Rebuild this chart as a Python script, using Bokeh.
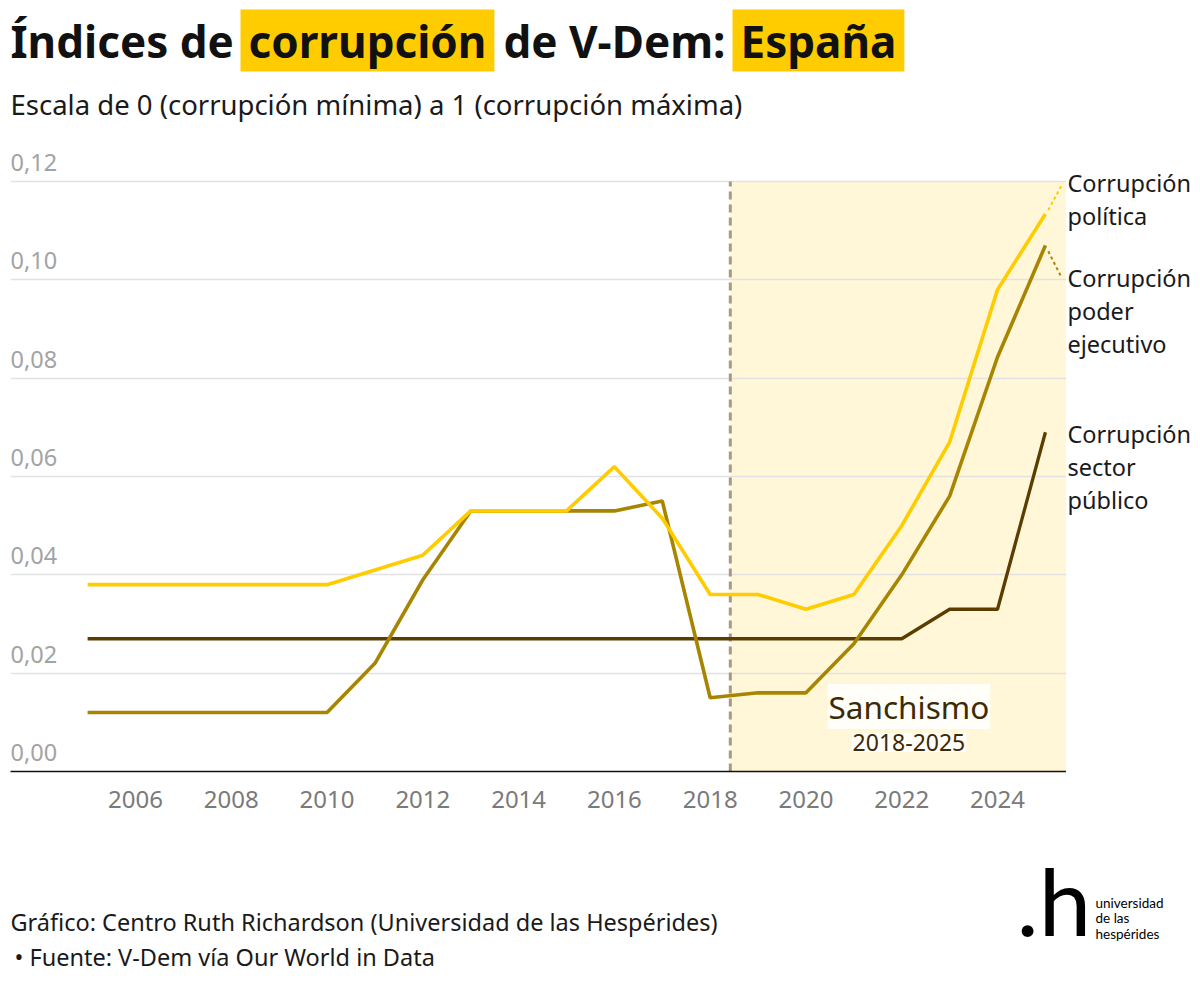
from bokeh.plotting import figure
from bokeh.layouts import column, row
from bokeh.models import Label, FixedTicker, Range1d, ColumnDataSource
from bokeh.core.properties import value
from bokeh.embed import file_html
from bokeh.resources import INLINE

# ---------------- data ----------------
years = [2005, 2006, 2007, 2008, 2009, 2010, 2011, 2012, 2013, 2014, 2015,
         2016, 2017, 2018, 2019, 2020, 2021, 2022, 2023, 2024, 2025]
politica = [0.038, 0.038, 0.038, 0.038, 0.038, 0.038, 0.041, 0.044, 0.053, 0.053, 0.053,
            0.062, 0.0515, 0.036, 0.036, 0.033, 0.036, 0.050, 0.067, 0.098, 0.1134]
poder_ejecutivo = [0.012, 0.012, 0.012, 0.012, 0.012, 0.012, 0.022, 0.039, 0.053, 0.053, 0.053,
                   0.053, 0.055, 0.015, 0.016, 0.016, 0.026, 0.040, 0.056, 0.0843, 0.107]
sector_publico = [0.027, 0.027, 0.027, 0.027, 0.027, 0.027, 0.027, 0.027, 0.027, 0.027, 0.027,
                  0.027, 0.027, 0.027, 0.027, 0.027, 0.027, 0.027, 0.033, 0.033, 0.069]

x_ticks = [2006, 2008, 2010, 2012, 2014, 2016, 2018, 2020, 2022, 2024]
y_ticks = [0.00, 0.02, 0.04, 0.06, 0.08, 0.10, 0.12]
y_tick_labels = ["0,00", "0,02", "0,04", "0,06", "0,08", "0,10", "0,12"]

sanchismo_start = 2018.42   # junio de 2018
sanchismo_top = 0.12

label_lines = [["Corrupción", "política"],
               ["Corrupción", "poder", "ejecutivo"],
               ["Corrupción", "sector", "público"]]

title_text = ["Índices de", "corrupción", "de V-Dem:", "España"]
subtitle_text = "Escala de 0 (corrupción mínima) a 1 (corrupción máxima)"
footer_text = ["Gráfico: Centro Ruth Richardson (Universidad de las Hespérides)",
               "• Fuente: V-Dem vía Our World in Data"]
logo_text = ["universidad", "de las", "hespérides"]

# ---------------- style ----------------
FONT = "Noto Sans"
C_POL = "#FFCC00"
C_POD = "#A88500"
C_SEC = "#5C3D00"
C_SHADE = "#FFF7D8"
C_DASH = "#A89A82"
C_TEXT = "#1a1a1a"

TOTAL_W = 1192
TITLE_H = 139
MAIN_H = 691
FOOT_H = 146
MAIN_W = 1066
SIDE_W = TOTAL_W - MAIN_W
BORDER_L = 10
BORDER_B = 59

X0, X1 = 2003.39, 2025.44
Y0, Y1 = 0.0, 0.12854


def blank(width, height, xr, yr):
    f = figure(width=width, height=height, output_backend="svg", toolbar_location=None,
               x_range=xr, y_range=yr, min_border=0, min_border_left=0, min_border_right=0,
               min_border_top=0, min_border_bottom=0)
    f.axis.visible = False
    f.grid.visible = False
    f.outline_line_color = None
    f.border_fill_color = "white"
    f.background_fill_color = "white"
    return f


# ---------------- title figure (data units = page pixels) ----------------
t = blank(TOTAL_W, TITLE_H, Range1d(0, TOTAL_W), Range1d(TITLE_H, 0))
title_x = [10, 240, 503, 732]
title_bg = [None, C_POL, None, C_POL]
for txt, tx, bg in zip(title_text, title_x, title_bg):
    kw = dict(background_fill_color=bg, padding=(8, 1)) if bg else {}
    t.add_layout(Label(x=tx, y=40, text=txt, text_font=FONT, text_font_size="44px",
                       text_font_style="bold", text_color="#111111",
                       text_baseline="middle", text_align="left", **kw))
t.add_layout(Label(x=10, y=104, text=subtitle_text, text_font=FONT, text_font_size="27.5px",
                   text_color=C_TEXT, text_baseline="middle", text_align="left"))

# ---------------- main chart ----------------
p = figure(width=MAIN_W, height=MAIN_H, output_backend="svg", toolbar_location=None,
           x_range=Range1d(X0, X1), y_range=Range1d(Y0, Y1),
           min_border_left=BORDER_L, min_border_right=0,
           min_border_top=0, min_border_bottom=BORDER_B)
p.outline_line_color = None
p.background_fill_color = "white"
p.border_fill_color = "white"

FRAME_H = MAIN_H - BORDER_B


def py_to_y(py):
    """page pixel y -> data y of the main chart"""
    return Y0 + (TITLE_H + FRAME_H - py) / FRAME_H * (Y1 - Y0)


p.yaxis.visible = False
p.xaxis.ticker = FixedTicker(ticks=x_ticks)
p.xaxis.major_tick_line_color = None
p.xaxis.minor_tick_line_color = None
p.xaxis.axis_line_color = "#111111"
p.xaxis.axis_line_width = 1.6
p.xaxis.major_label_text_font = FONT
p.xaxis.major_label_text_font_size = "24px"
p.xaxis.major_label_text_color = "#7a7a7a"
p.xaxis.major_label_standoff = 13
p.xgrid.visible = False
p.ygrid.ticker = FixedTicker(ticks=y_ticks[1:])
p.ygrid.grid_line_color = "#e2e2e2"
p.ygrid.grid_line_width = 1.6

# shaded period
p.quad(left=[sanchismo_start], right=[X1], bottom=[0], top=[sanchismo_top],
       fill_color=C_SHADE, line_color=None, level="image")
p.segment(x0=[sanchismo_start], x1=[sanchismo_start], y0=[0], y1=[sanchismo_top],
          line_color=C_DASH, line_width=3, line_dash="8 5")

# y tick labels above gridlines
p.text(x=[X0] * len(y_ticks), y=y_ticks, text=y_tick_labels,
       text_font=value(FONT), text_font_size="23.5px", text_color="#a3a3a3",
       text_baseline="alphabetic", text_align="left", y_offset=-19)

# lines
src = ColumnDataSource(dict(year=years, pol=politica, pod=poder_ejecutivo, sec=sector_publico))
p.line("year", "sec", source=src, line_color=C_SEC, line_width=3.3)
p.line("year", "pod", source=src, line_color=C_POD, line_width=3.6)
p.line("year", "pol", source=src, line_color=C_POL, line_width=3.6)

# leaders toward the end labels
anchor_pol = 0.1196
anchor_pod = 0.1004
anchor_sec = sector_publico[-1] - 0.0004
leader_x = X1 - 0.08
p.segment(x0=[years[-1] + 0.06], x1=[leader_x], y0=[politica[-1] + 0.0008], y1=[anchor_pol],
          line_color=C_POL, line_width=2, line_dash="3 3")
p.segment(x0=[years[-1] + 0.06], x1=[leader_x - 0.02], y0=[poder_ejecutivo[-1] - 0.0012], y1=[anchor_pod],
          line_color=C_POD, line_width=2, line_dash="3 3")

# Sanchismo annotation
sx = 2022.15
p.add_layout(Label(x=sx, y=py_to_y(706), text="Sanchismo", text_font=FONT, text_font_size="31.5px",
                   text_color="#3b2a05", text_align="center", text_baseline="middle",
                   background_fill_color="white", background_fill_alpha=0.85, padding=1))
p.add_layout(Label(x=sx, y=py_to_y(742), text="2018-2025", text_font=FONT, text_font_size="23px",
                   text_color="#3b2a05", text_align="center", text_baseline="middle",
                   background_fill_color="white", background_fill_alpha=0.85, padding=1))

# ---------------- side labels (shares the y scale) ----------------
s = blank(SIDE_W, MAIN_H, Range1d(MAIN_W, TOTAL_W), p.y_range)
s.min_border_bottom = BORDER_B
for lines, anchor in zip(label_lines, [anchor_pol, anchor_pod, anchor_sec]):
    for i, txt in enumerate(lines):
        s.add_layout(Label(x=MAIN_W + 1, y=anchor, y_offset=-33 * i, text=txt,
                           text_font=FONT, text_font_size="23.5px", text_color=C_TEXT,
                           text_baseline="middle", text_align="left"))

# ---------------- footer (data units = page pixels) ----------------
top_f = TITLE_H + MAIN_H
f = blank(TOTAL_W, FOOT_H, Range1d(0, TOTAL_W), Range1d(top_f + FOOT_H, top_f))
f.add_layout(Label(x=10, y=921, text=footer_text[0], text_font=FONT, text_font_size="23.5px",
                   text_color=C_TEXT, text_baseline="middle", text_align="left"))
f.add_layout(Label(x=14, y=956, text=footer_text[1], text_font=FONT, text_font_size="23.5px",
                   text_color=C_TEXT, text_baseline="middle", text_align="left"))
f.add_layout(Label(x=1016, y=899, text=".h", text_font="Lato",
                   text_font_size="94px", text_color="black",
                   text_baseline="middle", text_align="left"))
for i, txt in enumerate(logo_text):
    f.add_layout(Label(x=1095, y=902 + 15.5 * i, text=txt, text_font="Lato",
                       text_font_size="13.5px", text_color="black",
                       text_baseline="middle", text_align="left"))

layout = column(t, row(p, s), f)
open("out.html", "w").write(file_html(layout, INLINE))
